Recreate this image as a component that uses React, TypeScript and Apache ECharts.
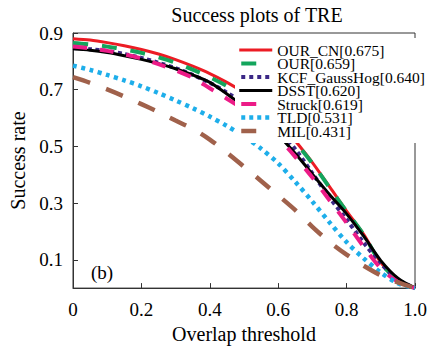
import React, { useEffect, useRef } from "react";
import * as echarts from "echarts";

const thresholds = [0, 0.05, 0.1, 0.15, 0.2, 0.25, 0.3, 0.35, 0.4, 0.45, 0.5, 0.55, 0.6, 0.65, 0.7, 0.75, 0.8, 0.85, 0.9, 0.95, 1.0];

const ourCN = [0.88, 0.875, 0.866, 0.855, 0.842, 0.826, 0.806, 0.783, 0.757, 0.726, 0.69, 0.648, 0.596, 0.52, 0.443, 0.358, 0.272, 0.19, 0.09, 0.03, 0.0];
const our = [0.865, 0.86, 0.852, 0.842, 0.83, 0.814, 0.795, 0.771, 0.744, 0.713, 0.677, 0.636, 0.585, 0.515, 0.44, 0.355, 0.27, 0.188, 0.088, 0.028, 0.0];
const kcf = [0.847, 0.843, 0.836, 0.826, 0.812, 0.795, 0.776, 0.752, 0.724, 0.69, 0.65, 0.605, 0.558, 0.49, 0.405, 0.32, 0.242, 0.16, 0.087, 0.03, 0.0];
const dsst = [0.844, 0.839, 0.831, 0.82, 0.807, 0.792, 0.774, 0.752, 0.726, 0.685, 0.64, 0.59, 0.54, 0.475, 0.402, 0.33, 0.262, 0.183, 0.097, 0.035, 0.0];
const struck = [0.852, 0.846, 0.837, 0.825, 0.81, 0.79, 0.768, 0.742, 0.705, 0.668, 0.63, 0.585, 0.53, 0.463, 0.39, 0.31, 0.23, 0.146, 0.07, 0.022, 0.0];
const tld = [0.785, 0.77, 0.752, 0.733, 0.712, 0.688, 0.662, 0.635, 0.605, 0.572, 0.535, 0.492, 0.44, 0.375, 0.305, 0.232, 0.162, 0.105, 0.055, 0.017, 0.0];
const mil = [0.744, 0.724, 0.701, 0.676, 0.649, 0.621, 0.591, 0.562, 0.524, 0.478, 0.428, 0.378, 0.327, 0.275, 0.216, 0.163, 0.118, 0.079, 0.045, 0.02, 0.0];

const seriesNames = ["OUR_CN[0.675]", "OUR[0.659]", "KCF_GaussHog[0.640]", "DSST[0.620]", "Struck[0.619]", "TLD[0.531]", "MIL[0.431]"];
const xTicks = [0, 0.2, 0.4, 0.6, 0.8, 1.0];
const yTicks = [0.1, 0.3, 0.5, 0.7, 0.9];

const FONT = "'Liberation Serif', 'Times New Roman', serif";

export default function App() {
  const ref = useRef<HTMLDivElement>(null);
  useEffect(() => {
    if (!ref.current) return;
    document.body.style.margin = "0";
    const chart = echarts.init(ref.current, null, { renderer: "svg" });
    const values = [ourCN, our, kcf, dsst, struck, tld, mil];
    const styles = [
      { color: "#ec1c24", width: 3, type: "solid" as any, legendType: "solid" as any },
      { color: "#13a55c", width: 4, type: [15, 14] as any, legendType: [15, 40] as any },
      { color: "#3b2886", width: 4, type: [4, 3.5] as any, legendType: [4, 4] as any },
      { color: "#000000", width: 3, type: "solid" as any, legendType: "solid" as any },
      { color: "#ec1b87", width: 4, type: [14, 13] as any, legendType: [15, 40] as any },
      { color: "#1eaeea", width: 4.5, type: [4, 4.5] as any, legendType: [4, 4] as any },
      { color: "#a0614b", width: 4.5, type: [18, 17] as any, legendType: [15, 40] as any },
    ];
    const series = values.map((vals, i) => ({
      name: seriesNames[i],
      type: "line",
      data: thresholds.map((t, j) => [t, vals[j]]),
      symbol: "none",
      smooth: 0.3,
      lineStyle: { color: styles[i].color, width: styles[i].width, type: styles[i].type, cap: "butt" },
      itemStyle: { color: styles[i].color },
    }));
    const legendData = seriesNames.map((n, i) => ({
      name: n,
      lineStyle: {
        color: styles[i].color,
        width: styles[i].width,
        type: styles[i].legendType,
        dashOffset: -2,
        cap: "butt",
      },
    }));
    chart.setOption({
      animation: false,
      backgroundColor: "#fff",
      grid: { left: 73, right: 16, top: 33, bottom: 55, show: true, borderColor: "#333", borderWidth: 1 },
      xAxis: {
        type: "value",
        min: 0,
        max: 1,
        interval: 0.2,
        name: "Overlap threshold",
        nameLocation: "middle",
        nameGap: 33,
        nameTextStyle: { fontFamily: FONT, fontSize: 20, color: "#000" },
        axisLine: { lineStyle: { color: "#333", width: 1 } },
        axisTick: { inside: true, length: 5, lineStyle: { color: "#333" } },
        splitLine: { show: false },
        axisLabel: {
          fontFamily: FONT,
          fontSize: 19,
          color: "#000",
          margin: 12,
          customValues: xTicks,
          formatter: (v: number) => (v === 0 ? "0" : v.toFixed(1)),
        },
      },
      yAxis: {
        type: "value",
        min: 0,
        max: 0.9,
        name: "Success rate",
        nameLocation: "middle",
        nameGap: 42,
        nameTextStyle: { fontFamily: FONT, fontSize: 20, color: "#000" },
        axisLine: { show: true, lineStyle: { color: "#333", width: 1 } },
        axisTick: { show: true, inside: true, length: 5, customValues: yTicks, lineStyle: { color: "#333" } },
        splitLine: { show: false },
        axisLabel: {
          fontFamily: FONT,
          fontSize: 19,
          color: "#000",
          margin: 10,
          customValues: yTicks,
          formatter: (v: number) => v.toFixed(1),
        },
      },
      legend: {
        orient: "vertical",
        left: 235,
        top: 38,
        itemWidth: 33,
        itemHeight: 10,
        itemGap: -2.5,
        padding: [4, 2, 4, 2],
        backgroundColor: "#fff",
        data: legendData,
        itemStyle: { opacity: 0 },
        textStyle: { fontFamily: FONT, fontSize: 15.5, color: "#000" },
      },
      graphic: [
        {
          type: "text",
          x: 257,
          y: 15,
          style: { text: "Success plots of TRE", fontFamily: FONT, fontSize: 20, fill: "#000", align: "center", verticalAlign: "middle" },
        },
        {
          type: "text",
          x: 91,
          y: 272,
          style: { text: "(b)", fontFamily: FONT, fontSize: 19, fill: "#000", align: "left", verticalAlign: "middle" },
        },
      ],
      series,
    });
    return () => chart.dispose();
  }, []);
  return <div ref={ref} style={{ width: 431, height: 349 }} />;
}
